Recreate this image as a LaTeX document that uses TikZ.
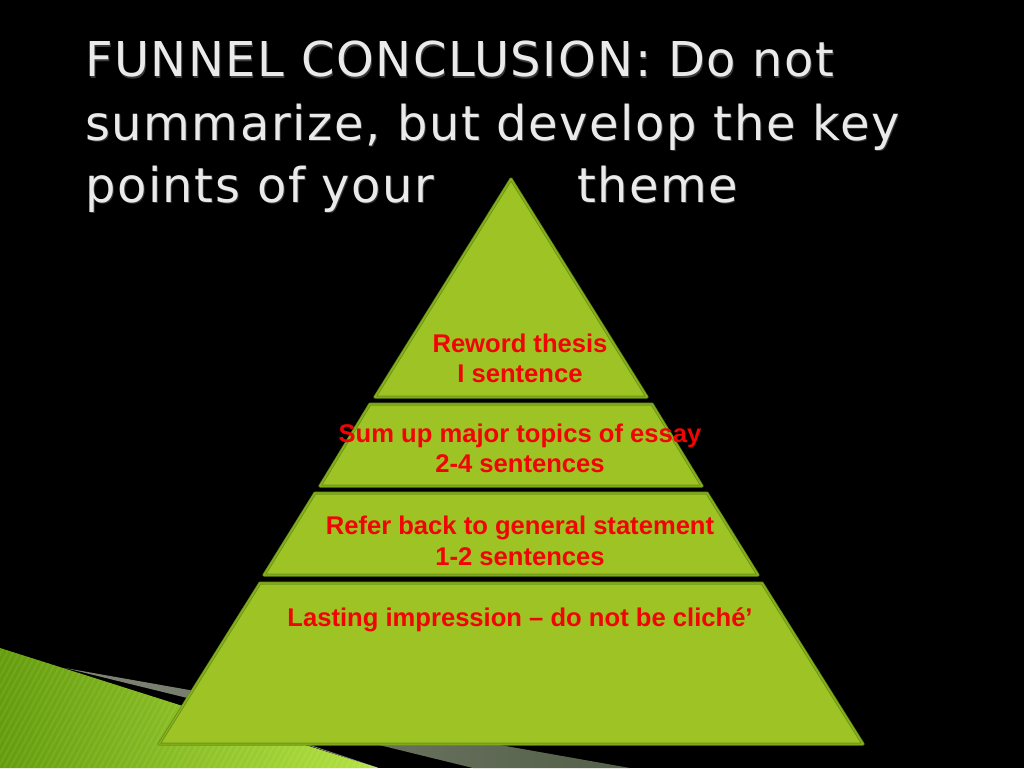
\documentclass[tikz,border=0pt]{standalone}
\usepackage{fontspec}
\setmainfont{Liberation Sans}
\newfontfamily\titlefont[LetterSpace=3.2]{DejaVu Sans}
\definecolor{pyrfill}{RGB}{157,196,36}
\definecolor{pyredge}{RGB}{108,148,22}
\definecolor{pyrinner}{RGB}{140,182,32}
\definecolor{redtxt}{RGB}{240,4,4}
\definecolor{titlecol}{RGB}{234,234,234}
\definecolor{greenL}{RGB}{100,156,12}
\definecolor{greenR}{RGB}{180,228,64}
\definecolor{grayL}{RGB}{128,134,118}
\definecolor{grayR}{RGB}{84,96,74}
\tikzset{
  seg/.style={fill=pyrfill, draw=pyredge, line width=1pt, double=pyrinner, double distance=1pt, line join=round},
  redline/.style={anchor=base, text=redtxt, inner sep=0pt, font=\fontsize{25.6}{30}\selectfont\bfseries},
  titleline/.style={anchor=base west, text=titlecol, inner sep=0pt, font=\titlefont\fontsize{48}{62}\selectfont},
  titleshadow/.style={anchor=base west, text=black!55!gray, inner sep=0pt, font=\titlefont\fontsize{48}{62}\selectfont}
}
\begin{document}
\begin{tikzpicture}[x=1pt,y=-1pt]
\fill[black] (0,0) rectangle (1024,768);
\useasboundingbox (0,0) rectangle (1024,768);
% decoration bottom-left
\shade[left color=grayL, right color=grayR] (65,668) -- (630,768) -- (473,768) -- cycle;
\begin{scope}
\clip (0,648) -- (378,768) -- (0,768) -- cycle;
\shade[left color=greenL, right color=greenR] (0,640) rectangle (380,768);
\foreach \i in {-200,-194,...,400} {
  \draw[white, opacity=0.08, line width=2pt] (\i,768) -- (\i+70,640);
}
\end{scope}
\draw[white, opacity=0.5, line width=0.8pt] (300,742) -- (378,768);
% pyramid segments
\draw[seg] (511,179) -- (647,397) -- (375,397) -- cycle;
\draw[seg] (370,404) -- (652,404) -- (702,486) -- (320,486) -- cycle;
\draw[seg] (315,493) -- (707,493) -- (758,575) -- (264,575) -- cycle;
\draw[seg] (260,583) -- (762,583) -- (863,744) -- (159,744) -- cycle;
% title
\node[titleshadow] at (86,78) {FUNNEL CONCLUSION: Do not};
\node[titleshadow] at (86,141) {summarize, but develop the key};
\node[titleshadow] at (86,203) {points of your};
\node[titleshadow] at (578,203) {theme};
\node[titleline] (t1) at (85,77) {FUNNEL CONCLUSION: Do not};
\node[titleline] (t2) at (85,140) {summarize, but develop the key};
\node[titleline] (t3) at (85,202) {points of your};
\node[titleline] (t3b) at (577,202) {theme};
% red labels
\node[redline] (a1) at (520,352) {Reword thesis};
\node[redline] (a2) at (520,382) {I sentence};
\node[redline] (b1) at (520,442) {Sum up major topics of essay};
\node[redline] (b2) at (520,472) {2-4 sentences};
\node[redline] (c1) at (520,534) {Refer back to general statement};
\node[redline] (c2) at (520,565) {1-2 sentences};
\node[redline] (d1) at (520,626) {Lasting impression – do not be cliché’};
\end{tikzpicture}
\end{document}
